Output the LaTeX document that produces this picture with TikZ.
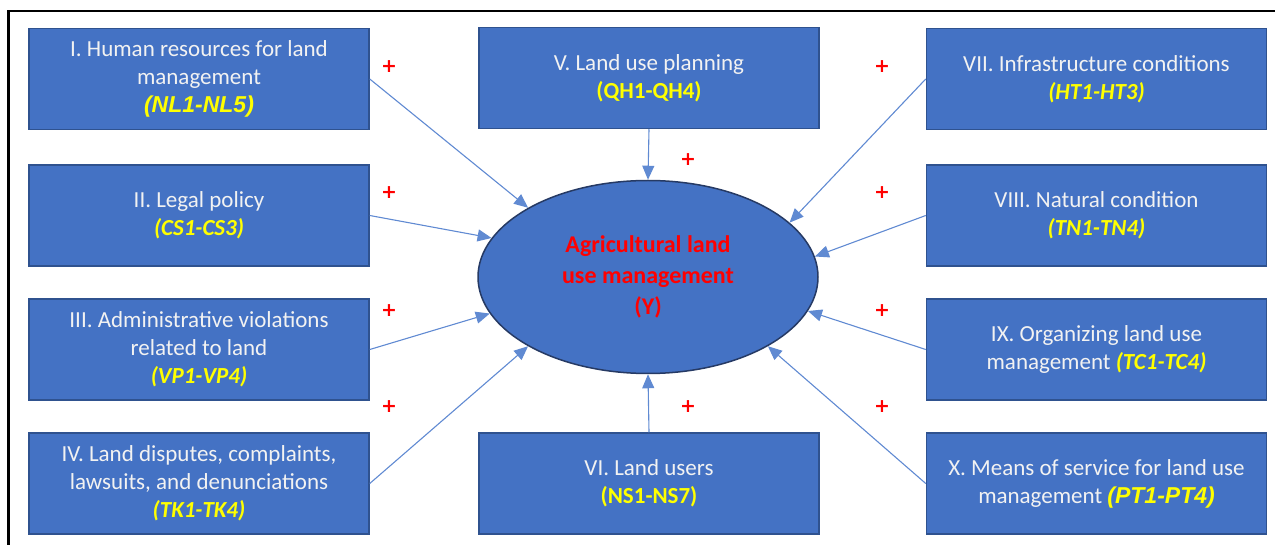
\documentclass[tikz,border=0pt]{standalone}
\usepackage{fontspec}
\setmainfont{Carlito}
\newfontfamily\arialf{Liberation Sans}
\newfontfamily\plusf{DejaVu Sans}
\usetikzlibrary{shapes.geometric,arrows.meta}
\definecolor{boxblue}{RGB}{68,114,196}
\definecolor{boxedge}{RGB}{47,82,143}
\definecolor{elledge}{RGB}{38,58,100}
\definecolor{arrblue}{RGB}{96,138,210}
\definecolor{codeyel}{RGB}{255,255,0}
\definecolor{txtwhite}{RGB}{242,242,242}
\definecolor{plusred}{RGB}{255,0,0}
\tikzset{
  factor/.style={draw=boxedge, line width=1.5pt, fill=boxblue, minimum width=340pt, minimum height=101pt,
    inner sep=0pt, align=center, text=txtwhite, font=\fontsize{23}{28}\selectfont},
  centre/.style={ellipse, draw=elledge, line width=1.5pt, fill=boxblue, minimum width=340pt, minimum height=193pt,
    inner sep=0pt, align=center, text=plusred, font=\fontsize{24}{31}\selectfont\bfseries},
  arr/.style={draw=arrblue, line width=1.1pt, -{Triangle[length=14pt,width=12pt]}},
  plus/.style={text=plusred, font=\plusf\fontsize{19}{19}\selectfont\bfseries, inner sep=0pt},
}
\newcommand{\codeA}[1]{{\color{codeyel}\arialf\bfseries\itshape #1}}
\newcommand{\codeC}[1]{{\color{codeyel}\bfseries\itshape #1}}
\newcommand{\codeU}[1]{{\color{codeyel}\bfseries #1}}
\begin{document}
\begin{tikzpicture}[x=1pt,y=-1pt]
\useasboundingbox (0,0) rectangle (1275,545);
\draw[line width=2.6pt, black] (8.7,546) -- (8.7,11) -- (1276,11);

\node[factor] (b1) at (199,79) {I. Human resources for land\\management\\\codeA{(NL1-NL5)}};
\node[factor] (b2) at (199,215.5) {II. Legal policy\\\codeC{(CS1-CS3)}};
\node[factor] (b3) at (199,349.5) {III. Administrative violations\\related to land\\\codeC{(VP1-VP4)}};
\node[factor] (b4) at (199,483.5) {IV. Land disputes, complaints,\\lawsuits, and denunciations\\\codeC{(TK1-TK4)}};
\node[factor] (b5) at (649,78) {V. Land use planning\\\codeU{(QH1-QH4)}};
\node[factor] (b6) at (649,483.5) {VI. Land users\\\codeU{(NS1-NS7)}};
\node[factor] (b7) at (1096.5,79) {VII. Infrastructure conditions\\\codeC{(HT1-HT3)}};
\node[factor] (b8) at (1096.5,215.5) {VIII. Natural condition\\\codeC{(TN1-TN4)}};
\node[factor] (b9) at (1096.5,349.5) {IX. Organizing land use\\management \codeC{(TC1-TC4)}};
\node[factor] (b10) at (1096.5,483.5) {X. Means of service for land use\\management \codeA{(PT1-PT4)}};

\node[centre] (c) at (648,277) {Agricultural land\\use management\\(Y)};

\draw[arr] (b1.east) -- (c.150);
\draw[arr] (b2.east) -- (c.166);
\draw[arr] (b3.east) -- (c.193);
\draw[arr] (b4.east) -- (c.210);
\draw[arr] (b5.south) -- (c.90);
\draw[arr] (b6.north) -- (c.270);
\draw[arr] (b7.west) -- (c.21);
\draw[arr] (b8.west) -- (c.7);
\draw[arr] (b9.west) -- (c.-12);
\draw[arr] (b10.west) -- (c.-30);

\node[plus] (p1) at (389,67) {+};
\node[plus] (p2) at (389,193) {+};
\node[plus] (p3) at (389,311) {+};
\node[plus] (p4) at (389,407) {+};
\node[plus] (p5) at (688,160) {+};
\node[plus] (p6) at (688,407) {+};
\node[plus] (p7) at (882,67) {+};
\node[plus] (p8) at (882,193) {+};
\node[plus] (p9) at (882,311) {+};
\node[plus] (p10) at (882,407) {+};
\end{tikzpicture}
\end{document}
